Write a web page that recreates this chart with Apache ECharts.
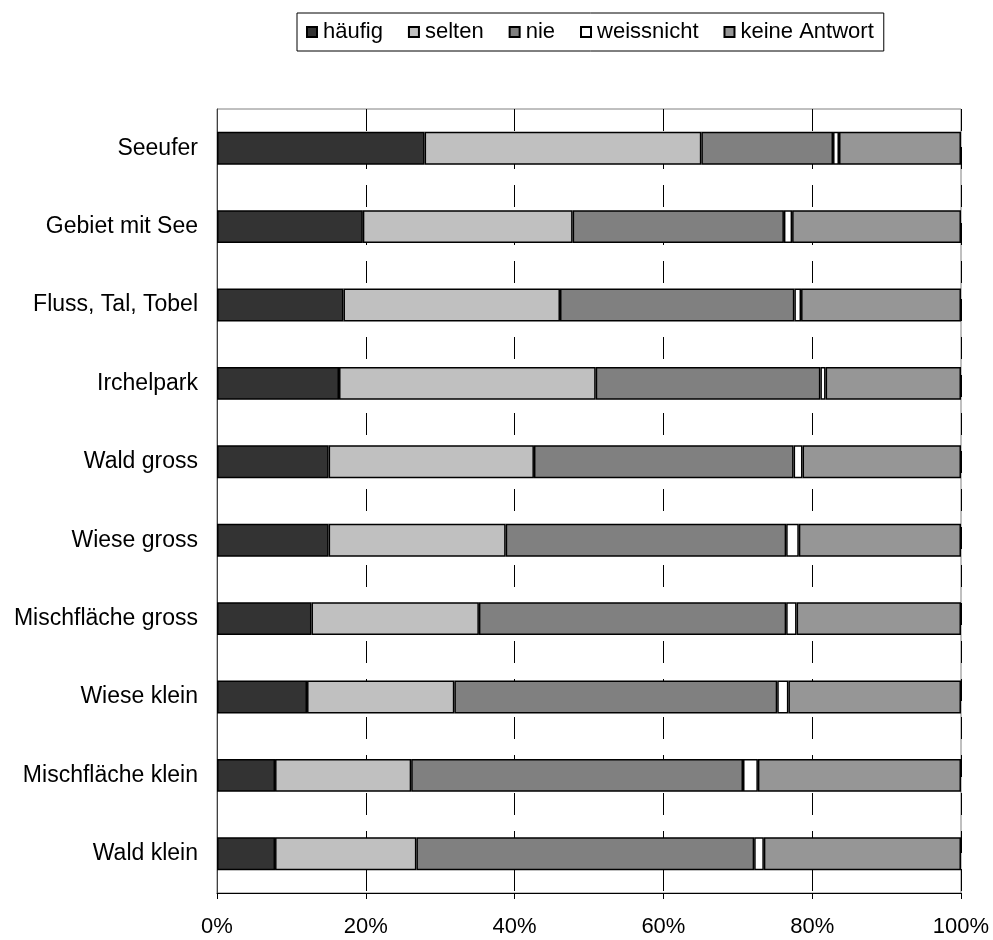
<!DOCTYPE html>
<html>
<head>
<meta charset="utf-8">
<script src="https://cdn.jsdelivr.net/npm/echarts@6/dist/echarts.min.js"></script>
<style>
  html, body { margin: 0; padding: 0; background: #ffffff; }
  #chart { width: 993px; height: 940px; }
</style>
</head>
<body>
<div id="chart"></div>
<script>
// Places, top to bottom
const categories = [
  'Seeufer', 'Gebiet mit See', 'Fluss, Tal, Tobel', 'Irchelpark', 'Wald gross',
  'Wiese gross', 'Mischfläche gross', 'Wiese klein', 'Mischfläche klein', 'Wald klein'
];

// Share of answers per place (%)
const haeufig     = [27.9, 19.6, 17.0, 16.4, 15.0, 15.0, 12.7, 12.1, 7.8, 7.8];
const selten      = [37.2, 28.2, 29.1, 34.5, 27.6, 23.8, 22.5, 19.8, 18.3, 19.0];
const nie         = [17.7, 28.4, 31.5, 30.2, 34.9, 37.7, 41.3, 43.4, 44.6, 45.4];
const weissnicht  = [0.8, 1.1, 0.9, 0.7, 1.2, 1.7, 1.4, 1.5, 2.0, 1.3];
const keineAntwort = [16.4, 22.7, 21.5, 18.2, 21.3, 21.8, 22.1, 23.2, 27.3, 26.5];

const seriesNames = ['häufig', 'selten', 'nie', 'weissnicht', 'keine Antwort'];
const seriesData = [haeufig, selten, nie, weissnicht, keineAntwort];
const seriesColors = ['#333333', '#c0c0c0', '#808080', '#ffffff', '#969696'];

const FONT = '"Liberation Sans", Arial, sans-serif';

const chart = echarts.init(document.getElementById('chart'), null, { renderer: 'canvas' });

chart.setOption({
  animation: false,
  backgroundColor: '#ffffff',
  textStyle: { fontFamily: FONT },
  legend: {
    data: seriesNames,
    left: 297,
    top: 13,
    icon: 'rect',
    itemWidth: 10,
    itemHeight: 10,
    itemGap: 25,
    padding: [8, 10, 8, 9],
    borderColor: '#000000',
    borderWidth: 1,
    textStyle: { fontFamily: FONT, fontSize: 22, color: '#000000', padding: [0, 0, 0, 1] }
  },
  grid: {
    left: 217,
    right: 32,
    top: 109,
    bottom: 47,
    show: true,
    borderColor: '#808080',
    borderWidth: 1,
    containLabel: false
  },
  xAxis: {
    type: 'value',
    min: 0,
    max: 100,
    interval: 20,
    axisLine: { show: true, lineStyle: { color: '#000000', width: 1 } },
    axisTick: { show: true, length: 6, lineStyle: { color: '#000000' } },
    axisLabel: {
      formatter: '{value}%',
      fontFamily: FONT,
      fontSize: 22,
      color: '#000000',
      margin: 23
    },
    splitLine: {
      show: true,
      lineStyle: { color: '#000000', width: 1, type: [22, 16] }
    }
  },
  yAxis: {
    type: 'category',
    data: categories,
    inverse: true,
    axisLine: { show: true, lineStyle: { color: '#404040', width: 1 } },
    axisTick: { show: false },
    axisLabel: {
      fontFamily: FONT,
      fontSize: 23,
      color: '#000000',
      margin: 19
    },
    splitLine: { show: false }
  },
  series: seriesNames.map((name, i) => ({
    name: name,
    type: 'bar',
    stack: 'total',
    barWidth: '42%',
    data: seriesData[i],
    itemStyle: {
      color: seriesColors[i],
      borderColor: '#000000',
      borderWidth: 1.5
    },
    emphasis: { disabled: true }
  }))
});
</script>
</body>
</html>
